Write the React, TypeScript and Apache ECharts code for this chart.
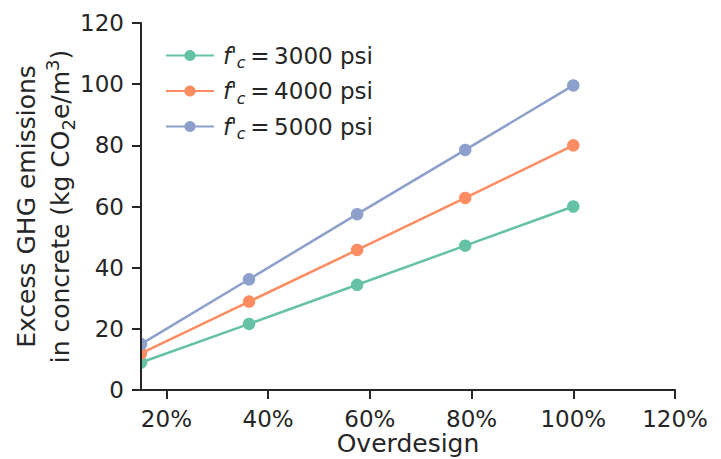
import React, { useEffect, useRef } from "react";
import * as echarts from "echarts";

const overdesign = [15, 36.25, 57.5, 78.75, 100];
const fc3000 = [9, 21.6, 34.4, 47.2, 60];
const fc4000 = [12, 28.9, 45.8, 62.8, 80];
const fc5000 = [15, 36.2, 57.5, 78.5, 99.6];
const strengths = ["3000", "4000", "5000"];
const xTicks = [20, 40, 60, 80, 100, 120];
const colors = ["#66c2a5", "#fc8d62", "#8da0cb"];

const FONT = "DejaVu Sans";
const INK = "#262626";
const W = 721;
const H = 459;
const GRID = { left: 141, right: 46, top: 23, bottom: 69 };

export default function App() {
  const ref = useRef<HTMLDivElement>(null);
  useEffect(() => {
    if (!ref.current) return;
    const chart = echarts.init(ref.current, undefined, { renderer: "svg" });
    const seriesData = [fc3000, fc4000, fc5000];
    const names = strengths.map((s) => `f′c = ${s} psi`);
    chart.setOption({
      animation: false,
      backgroundColor: "#ffffff",
      grid: { ...GRID, containLabel: false, outerBoundsMode: "none" },
      legend: {
        orient: "vertical",
        left: 160,
        top: 39,
        itemWidth: 48,
        itemHeight: 14,
        itemGap: 9,
        data: names,
        formatter: (name: string) => {
          const m = name.match(/(\d+)/);
          return `{f|f}{p|'}{c|c}{t|\u2009=\u2009${m ? m[1] : ""} psi}`;
        },
        textStyle: {
          fontFamily: FONT,
          fontSize: 23,
          color: INK,
          padding: [0, 0, 0, 4],
          rich: {
            f: { fontFamily: FONT, fontStyle: "italic", fontSize: 23, lineHeight: 30, color: INK },
            p: { fontFamily: FONT, fontStyle: "italic", fontSize: 21, lineHeight: 30, color: INK },
            c: { fontFamily: FONT, fontStyle: "italic", fontSize: 16, lineHeight: 20, verticalAlign: "bottom", color: INK },
            t: { fontFamily: FONT, fontSize: 23, lineHeight: 30, color: INK },
          },
        },
      },
      xAxis: {
        type: "value",
        min: 15,
        max: 120,
        name: "Overdesign",
        nameLocation: "middle",
        nameGap: 41,
        nameMoveOverlap: false,
        nameTextStyle: { fontFamily: FONT, fontSize: 25, lineHeight: 25, color: INK },
        axisLine: { show: true, lineStyle: { color: INK, width: 2 } },
        axisTick: { show: true, length: 9, lineStyle: { color: INK, width: 2 }, customValues: xTicks },
        axisLabel: {
          fontFamily: FONT,
          fontSize: 23,
          lineHeight: 23,
          color: INK,
          margin: 17,
          customValues: xTicks,
          formatter: (v: number) => `${v}%`,
        },
        splitLine: { show: false },
        z: 20,
      },
      yAxis: {
        type: "value",
        min: 0,
        max: 120,
        interval: 20,
        name: "{a|Excess GHG emissions}\n{a|in concrete (kg CO}{s|2}{a|e/m}{u|3}{a|)}",
        nameLocation: "middle",
        nameGap: 64,
        nameMoveOverlap: false,
        nameTextStyle: {
          fontFamily: FONT,
          fontSize: 25,
          lineHeight: 34,
          color: INK,
          rich: {
            a: { fontFamily: FONT, fontSize: 25, lineHeight: 34, color: INK },
            s: { fontFamily: FONT, fontSize: 18, lineHeight: 20, verticalAlign: "bottom", color: INK },
            u: { fontFamily: FONT, fontSize: 18, lineHeight: 22, verticalAlign: "top", color: INK },
          },
        },
        axisLine: { show: true, lineStyle: { color: INK, width: 2 } },
        axisTick: { show: true, length: 9, lineStyle: { color: INK, width: 2 } },
        axisLabel: { fontFamily: FONT, fontSize: 23, color: INK, margin: 17 },
        splitLine: { show: false },
        z: 20,
      },
      graphic: [
        {
          type: "rect",
          z: 10,
          silent: true,
          shape: { x: GRID.left - 10, y: H - GRID.bottom - 58, width: 10, height: 40 },
          style: { fill: "#ffffff" },
        },
      ],
      series: seriesData.map((d, i) => ({
        type: "line",
        name: names[i],
        data: overdesign.map((x, j) => [x, d[j]]),
        symbol: "circle",
        symbolSize: 12.5,
        showSymbol: true,
        lineStyle: { color: colors[i], width: 2.5 },
        itemStyle: { color: colors[i] },
        color: colors[i],
        clip: false,
        z: 5,
      })),
    });
    return () => chart.dispose();
  }, []);
  return (
    <div
      ref={ref}
      style={{ position: "absolute", left: 0, top: 0, width: W, height: H }}
    />
  );
}
